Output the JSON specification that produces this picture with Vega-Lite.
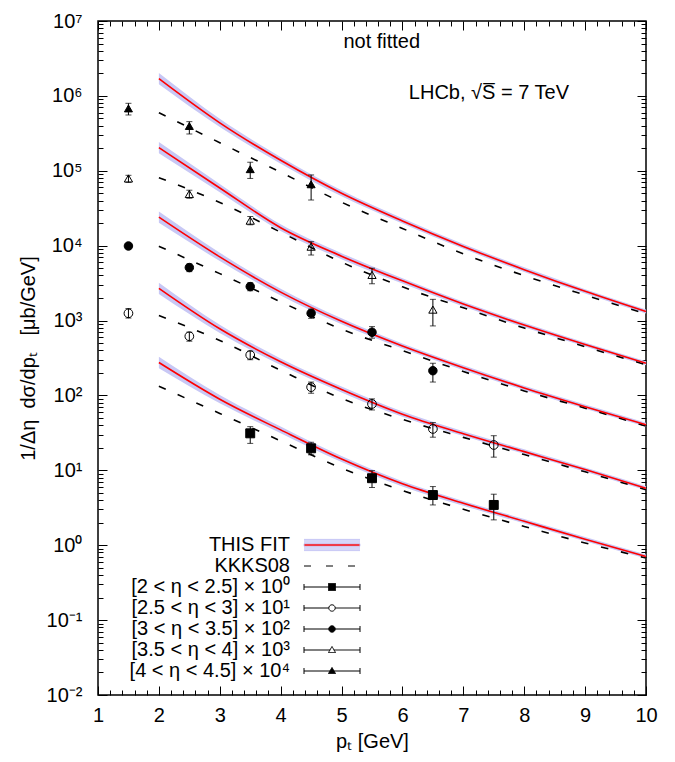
{
  "$schema": "https://vega.github.io/schema/vega-lite/v6.json",
  "autosize": "none",
  "width": 548,
  "height": 674,
  "padding": {"left": 98, "top": 21, "right": 29, "bottom": 67},
  "background": "white",
  "datasets": {
    "curves": [
      {"series": "[4 < η < 4.5] × 10⁴", "x": 2, "fit": 1698000, "lo": 1428000, "hi": 2019000, "kkks": 597000},
      {"series": "[4 < η < 4.5] × 10⁴", "x": 3, "fit": 436500, "lo": 384600, "hi": 495400, "kkks": 237100},
      {"series": "[4 < η < 4.5] × 10⁴", "x": 4, "fit": 138000, "lo": 124500, "hi": 153000, "kkks": 95500},
      {"series": "[4 < η < 4.5] × 10⁴", "x": 5, "fit": 50120, "lo": 45710, "hi": 54960, "kkks": 38020},
      {"series": "[4 < η < 4.5] × 10⁴", "x": 6, "fit": 21380, "lo": 19730, "hi": 23180, "kkks": 16980},
      {"series": "[4 < η < 4.5] × 10⁴", "x": 7, "fit": 9772, "lo": 9078, "hi": 10515, "kkks": 7762},
      {"series": "[4 < η < 4.5] × 10⁴", "x": 8, "fit": 4786, "lo": 4465, "hi": 5131, "kkks": 3981},
      {"series": "[4 < η < 4.5] × 10⁴", "x": 9, "fit": 2455, "lo": 2303, "hi": 2619, "kkks": 2188},
      {"series": "[4 < η < 4.5] × 10⁴", "x": 10, "fit": 1318, "lo": 1239, "hi": 1402, "kkks": 1230},
      {"series": "[3.5 < η < 4] × 10³", "x": 2, "fit": 204200, "lo": 171700, "hi": 242800, "kkks": 80910},
      {"series": "[3.5 < η < 4] × 10³", "x": 3, "fit": 58880, "lo": 51870, "hi": 66830, "kkks": 37760},
      {"series": "[3.5 < η < 4] × 10³", "x": 4, "fit": 17380, "lo": 15680, "hi": 19270, "kkks": 15140},
      {"series": "[3.5 < η < 4] × 10³", "x": 5, "fit": 7244, "lo": 6606, "hi": 7943, "kkks": 6026},
      {"series": "[3.5 < η < 4] × 10³", "x": 6, "fit": 3388, "lo": 3127, "hi": 3673, "kkks": 2818},
      {"series": "[3.5 < η < 4] × 10³", "x": 7, "fit": 1660, "lo": 1542, "hi": 1786, "kkks": 1479},
      {"series": "[3.5 < η < 4] × 10³", "x": 8, "fit": 871, "lo": 813, "hi": 934, "kkks": 794.3},
      {"series": "[3.5 < η < 4] × 10³", "x": 9, "fit": 478.6, "lo": 448.9, "hi": 510.7, "kkks": 446.7},
      {"series": "[3.5 < η < 4] × 10³", "x": 10, "fit": 269.2, "lo": 253.0, "hi": 286.4, "kkks": 257.0},
      {"series": "[3 < η < 3.5] × 10²", "x": 2, "fit": 23990, "lo": 20176, "hi": 28524, "kkks": 9817},
      {"series": "[3 < η < 3.5] × 10²", "x": 3, "fit": 7079, "lo": 6237, "hi": 8035, "kkks": 4236},
      {"series": "[3 < η < 3.5] × 10²", "x": 4, "fit": 2399, "lo": 2164, "hi": 2660, "kkks": 1778},
      {"series": "[3 < η < 3.5] × 10²", "x": 5, "fit": 977.2, "lo": 891.2, "hi": 1071.5, "kkks": 765.6},
      {"series": "[3 < η < 3.5] × 10²", "x": 6, "fit": 457.1, "lo": 421.9, "hi": 495.5, "kkks": 398.1},
      {"series": "[3 < η < 3.5] × 10²", "x": 7, "fit": 234.4, "lo": 217.8, "hi": 252.2, "kkks": 208.9},
      {"series": "[3 < η < 3.5] × 10²", "x": 8, "fit": 125.9, "lo": 117.5, "hi": 135.0, "kkks": 114.8},
      {"series": "[3 < η < 3.5] × 10²", "x": 9, "fit": 70.79, "lo": 66.40, "hi": 75.53, "kkks": 67.61},
      {"series": "[3 < η < 3.5] × 10²", "x": 10, "fit": 40.74, "lo": 38.30, "hi": 43.35, "kkks": 38.90},
      {"series": "[2.5 < η < 3] × 10¹", "x": 2, "fit": 2692, "lo": 2264, "hi": 3201, "kkks": 1164},
      {"series": "[2.5 < η < 3] × 10¹", "x": 3, "fit": 776.2, "lo": 683.8, "hi": 881.0, "kkks": 543.3},
      {"series": "[2.5 < η < 3] × 10¹", "x": 4, "fit": 281.8, "lo": 254.2, "hi": 312.5, "kkks": 216.8},
      {"series": "[2.5 < η < 3] × 10¹", "x": 5, "fit": 120.2, "lo": 109.6, "hi": 131.8, "kkks": 91.20},
      {"series": "[2.5 < η < 3] × 10¹", "x": 6, "fit": 56.23, "lo": 51.90, "hi": 60.95, "kkks": 47.86},
      {"series": "[2.5 < η < 3] × 10¹", "x": 7, "fit": 30.90, "lo": 28.71, "hi": 33.25, "kkks": 27.54},
      {"series": "[2.5 < η < 3] × 10¹", "x": 8, "fit": 17.78, "lo": 16.59, "hi": 19.06, "kkks": 16.22},
      {"series": "[2.5 < η < 3] × 10¹", "x": 9, "fit": 10.23, "lo": 9.60, "hi": 10.92, "kkks": 9.550},
      {"series": "[2.5 < η < 3] × 10¹", "x": 10, "fit": 5.754, "lo": 5.409, "hi": 6.122, "kkks": 5.495},
      {"series": "[2 < η < 2.5] × 10⁰", "x": 2, "fit": 275.4, "lo": 231.6, "hi": 327.5, "kkks": 132.7},
      {"series": "[2 < η < 2.5] × 10⁰", "x": 3, "fit": 89.13, "lo": 78.52, "hi": 101.2, "kkks": 57.54},
      {"series": "[2 < η < 2.5] × 10⁰", "x": 4, "fit": 34.67, "lo": 31.27, "hi": 38.45, "kkks": 24.72},
      {"series": "[2 < η < 2.5] × 10⁰", "x": 5, "fit": 14.13, "lo": 12.89, "hi": 15.49, "kkks": 10.72},
      {"series": "[2 < η < 2.5] × 10⁰", "x": 6, "fit": 6.607, "lo": 6.098, "hi": 7.162, "kkks": 5.370},
      {"series": "[2 < η < 2.5] × 10⁰", "x": 7, "fit": 3.631, "lo": 3.373, "hi": 3.907, "kkks": 3.020},
      {"series": "[2 < η < 2.5] × 10⁰", "x": 8, "fit": 2.089, "lo": 1.949, "hi": 2.239, "kkks": 1.778},
      {"series": "[2 < η < 2.5] × 10⁰", "x": 9, "fit": 1.202, "lo": 1.127, "hi": 1.283, "kkks": 1.072},
      {"series": "[2 < η < 2.5] × 10⁰", "x": 10, "fit": 0.7079, "lo": 0.6654, "hi": 0.7532, "kkks": 0.6761}
    ],
    "points": [
      {"series": "[4 < η < 4.5] × 10⁴", "x": 1.5, "y": 680000, "lo": 556000, "hi": 796000},
      {"series": "[4 < η < 4.5] × 10⁴", "x": 2.5, "y": 396000, "lo": 310000, "hi": 453000},
      {"series": "[4 < η < 4.5] × 10⁴", "x": 3.5, "y": 105000, "lo": 79000, "hi": 130000},
      {"series": "[4 < η < 4.5] × 10⁴", "x": 4.5, "y": 66000, "lo": 40700, "hi": 88000},
      {"series": "[3.5 < η < 4] × 10³", "x": 1.5, "y": 79000, "lo": 70000, "hi": 87000},
      {"series": "[3.5 < η < 4] × 10³", "x": 2.5, "y": 49000, "lo": 43000, "hi": 55000},
      {"series": "[3.5 < η < 4] × 10³", "x": 3.5, "y": 21600, "lo": 19000, "hi": 24500},
      {"series": "[3.5 < η < 4] × 10³", "x": 4.5, "y": 9700, "lo": 7500, "hi": 11300},
      {"series": "[3.5 < η < 4] × 10³", "x": 5.5, "y": 4070, "lo": 3100, "hi": 5000},
      {"series": "[3.5 < η < 4] × 10³", "x": 6.5, "y": 1400, "lo": 848, "hi": 1920},
      {"series": "[3 < η < 3.5] × 10²", "x": 1.5, "y": 9900, "lo": 9000, "hi": 10800},
      {"series": "[3 < η < 3.5] × 10²", "x": 2.5, "y": 5100, "lo": 4500, "hi": 5700},
      {"series": "[3 < η < 3.5] × 10²", "x": 3.5, "y": 2840, "lo": 2500, "hi": 3200},
      {"series": "[3 < η < 3.5] × 10²", "x": 4.5, "y": 1250, "lo": 1070, "hi": 1420},
      {"series": "[3 < η < 3.5] × 10²", "x": 5.5, "y": 698, "lo": 581, "hi": 830},
      {"series": "[3 < η < 3.5] × 10²", "x": 6.5, "y": 214, "lo": 151, "hi": 269},
      {"series": "[2.5 < η < 3] × 10¹", "x": 1.5, "y": 1250, "lo": 1080, "hi": 1450},
      {"series": "[2.5 < η < 3] × 10¹", "x": 2.5, "y": 617, "lo": 530, "hi": 700},
      {"series": "[2.5 < η < 3] × 10¹", "x": 3.5, "y": 347, "lo": 300, "hi": 390},
      {"series": "[2.5 < η < 3] × 10¹", "x": 4.5, "y": 129, "lo": 107, "hi": 151},
      {"series": "[2.5 < η < 3] × 10¹", "x": 5.5, "y": 77, "lo": 64, "hi": 90},
      {"series": "[2.5 < η < 3] × 10¹", "x": 6.5, "y": 35.7, "lo": 27.7, "hi": 43.4},
      {"series": "[2.5 < η < 3] × 10¹", "x": 7.5, "y": 21.8, "lo": 15, "hi": 29},
      {"series": "[2 < η < 2.5] × 10⁰", "x": 3.5, "y": 31.2, "lo": 22.9, "hi": 38.3},
      {"series": "[2 < η < 2.5] × 10⁰", "x": 4.5, "y": 19.7, "lo": 16.1, "hi": 23.7},
      {"series": "[2 < η < 2.5] × 10⁰", "x": 5.5, "y": 7.85, "lo": 5.9, "hi": 9.9},
      {"series": "[2 < η < 2.5] × 10⁰", "x": 6.5, "y": 4.68, "lo": 3.45, "hi": 6.07},
      {"series": "[2 < η < 2.5] × 10⁰", "x": 7.5, "y": 3.45, "lo": 2.18, "hi": 4.8}
    ]
  },
  "resolve": {
    "axis": {"x": "independent", "y": "independent"},
    "scale": {"shape": "independent", "fill": "independent", "size": "independent", "stroke": "independent", "strokeDash": "independent"}
  },
  "layer": [
    {
      "data": {"name": "curves"},
      "mark": {"type": "area", "color": "#c8c8f5", "opacity": 1, "interpolate": "monotone"},
      "encoding": {
        "x": {"field": "x", "type": "quantitative", "scale": {"domain": [1, 10], "nice": false, "zero": false},
          "axis": {"orient": "bottom", "values": [1, 2, 3, 4, 5, 6, 7, 8, 9, 10], "ticks": false, "domain": false, "grid": false,
            "labelPadding": 10, "labelFlush": false, "labelOverlap": false, "format": "d",
            "title": "pₜ [GeV]", "titlePadding": 6}},
        "y": {"field": "lo", "type": "quantitative", "scale": {"type": "log", "domain": [0.01, 10000000], "nice": false},
          "axis": {"orient": "left", "values": [0.01, 0.1, 1, 10, 100, 1000, 10000, 100000, 1000000, 10000000], "ticks": false, "domain": false, "grid": false,
            "labelPadding": 16, "labelOverlap": false,
            "labelExpr": "'10' + ['⁻²','⁻¹','⁰','¹','²','³','⁴','⁵','⁶','⁷'][round(log(datum.value)/LN10) + 2]",
            "title": "1/Δη\u00a0\u00a0dσ/dpₜ\u00a0\u00a0\u00a0[μb/GeV]", "titlePadding": 8}},
        "y2": {"field": "hi"},
        "detail": {"field": "series"}
      }
    },
    {
      "data": {"name": "curves"},
      "mark": {"type": "line", "color": "black", "strokeWidth": 1.6, "strokeDash": [7.5, 13], "interpolate": "monotone"},
      "encoding": {
        "x": {"field": "x", "type": "quantitative", "scale": {"domain": [1, 10], "nice": false, "zero": false},
          "axis": {"orient": "bottom", "values": [1.2, 1.4, 1.6, 1.8, 2.2, 2.4, 2.6, 2.8, 3.2, 3.4, 3.6, 3.8, 4.2, 4.4, 4.6, 4.8, 5.2, 5.4, 5.6, 5.8, 6.2, 6.4, 6.6, 6.8, 7.2, 7.4, 7.6, 7.8, 8.2, 8.4, 8.6, 8.8, 9.2, 9.4, 9.6, 9.8],
            "labels": false, "tickSize": -5, "domain": false, "grid": false, "title": null}},
        "y": {"field": "kkks", "type": "quantitative", "scale": {"type": "log", "domain": [0.01, 10000000], "nice": false},
          "axis": {"orient": "left", "values": [0.02, 0.03, 0.04, 0.05, 0.06, 0.07, 0.08, 0.09, 0.2, 0.3, 0.4, 0.5, 0.6, 0.7, 0.8, 0.9, 2, 3, 4, 5, 6, 7, 8, 9, 20, 30, 40, 50, 60, 70, 80, 90, 200, 300, 400, 500, 600, 700, 800, 900, 2000, 3000, 4000, 5000, 6000, 7000, 8000, 9000, 20000, 30000, 40000, 50000, 60000, 70000, 80000, 90000, 200000, 300000, 400000, 500000, 600000, 700000, 800000, 900000, 2000000, 3000000, 4000000, 5000000, 6000000, 7000000, 8000000, 9000000],
            "labels": false, "tickSize": -5, "domain": false, "grid": false, "title": null}},
        "detail": {"field": "series"}
      }
    },
    {
      "data": {"name": "curves"},
      "mark": {"type": "line", "color": "#ff0000", "strokeWidth": 1.6, "interpolate": "monotone"},
      "encoding": {
        "x": {"field": "x", "type": "quantitative", "scale": {"domain": [1, 10], "nice": false, "zero": false},
          "axis": {"orient": "top", "values": [1, 2, 3, 4, 5, 6, 7, 8, 9, 10], "labels": false, "tickSize": -9, "domain": false, "grid": false, "title": null}},
        "y": {"field": "fit", "type": "quantitative", "scale": {"type": "log", "domain": [0.01, 10000000], "nice": false},
          "axis": {"orient": "right", "values": [0.01, 0.1, 1, 10, 100, 1000, 10000, 100000, 1000000, 10000000], "labels": false, "tickSize": -9, "domain": false, "grid": false, "title": null}},
        "detail": {"field": "series"}
      }
    },
    {
      "data": {"name": "points"},
      "mark": {"type": "errorbar", "ticks": {"size": 6, "color": "black"}, "rule": {"color": "black", "strokeWidth": 1}, "thickness": 1},
      "encoding": {
        "x": {"field": "x", "type": "quantitative", "scale": {"domain": [1, 10], "nice": false, "zero": false},
          "axis": {"orient": "top", "values": [1.2, 1.4, 1.6, 1.8, 2.2, 2.4, 2.6, 2.8, 3.2, 3.4, 3.6, 3.8, 4.2, 4.4, 4.6, 4.8, 5.2, 5.4, 5.6, 5.8, 6.2, 6.4, 6.6, 6.8, 7.2, 7.4, 7.6, 7.8, 8.2, 8.4, 8.6, 8.8, 9.2, 9.4, 9.6, 9.8],
            "labels": false, "tickSize": -5, "domain": false, "grid": false, "title": null}},
        "y": {"field": "lo", "type": "quantitative", "scale": {"type": "log", "domain": [0.01, 10000000], "nice": false},
          "axis": {"orient": "right", "values": [0.02, 0.03, 0.04, 0.05, 0.06, 0.07, 0.08, 0.09, 0.2, 0.3, 0.4, 0.5, 0.6, 0.7, 0.8, 0.9, 2, 3, 4, 5, 6, 7, 8, 9, 20, 30, 40, 50, 60, 70, 80, 90, 200, 300, 400, 500, 600, 700, 800, 900, 2000, 3000, 4000, 5000, 6000, 7000, 8000, 9000, 20000, 30000, 40000, 50000, 60000, 70000, 80000, 90000, 200000, 300000, 400000, 500000, 600000, 700000, 800000, 900000, 2000000, 3000000, 4000000, 5000000, 6000000, 7000000, 8000000, 9000000],
            "labels": false, "tickSize": -5, "domain": false, "grid": false, "title": null}},
        "y2": {"field": "hi"}
      }
    },
    {
      "data": {"name": "points"},
      "mark": {"type": "point", "stroke": "black", "strokeWidth": 1, "opacity": 1},
      "encoding": {
        "x": {"field": "x", "type": "quantitative", "scale": {"domain": [1, 10], "nice": false, "zero": false},
          "axis": {"orient": "bottom", "values": [1, 2, 3, 4, 5, 6, 7, 8, 9, 10], "labels": false, "tickSize": -9, "domain": false, "grid": false, "title": null}},
        "y": {"field": "y", "type": "quantitative", "scale": {"type": "log", "domain": [0.01, 10000000], "nice": false},
          "axis": {"orient": "left", "values": [0.01, 0.1, 1, 10, 100, 1000, 10000, 100000, 1000000, 10000000], "labels": false, "tickSize": -9, "domain": false, "grid": false, "title": null}},
        "shape": {"field": "series", "type": "nominal", "legend": null,
          "scale": {"domain": ["[2 < η < 2.5] × 10⁰", "[2.5 < η < 3] × 10¹", "[3 < η < 3.5] × 10²", "[3.5 < η < 4] × 10³", "[4 < η < 4.5] × 10⁴"],
            "range": ["square", "circle", "circle", "triangle-up", "triangle-up"]}},
        "fill": {"field": "series", "type": "nominal", "legend": null,
          "scale": {"domain": ["[2 < η < 2.5] × 10⁰", "[2.5 < η < 3] × 10¹", "[3 < η < 3.5] × 10²", "[3.5 < η < 4] × 10³", "[4 < η < 4.5] × 10⁴"],
            "range": ["black", "transparent", "black", "transparent", "black"]}},
        "size": {"field": "series", "type": "nominal", "legend": null,
          "scale": {"domain": ["[2 < η < 2.5] × 10⁰", "[2.5 < η < 3] × 10¹", "[3 < η < 3.5] × 10²", "[3.5 < η < 4] × 10³", "[4 < η < 4.5] × 10⁴"],
            "range": [80, 64, 64, 50, 50]}}
      }
    },
    {
      "data": {"name": "points"},
      "mark": {"type": "point", "opacity": 0},
      "encoding": {
        "x": {"field": "x", "type": "quantitative", "axis": null},
        "y": {"field": "y", "type": "quantitative", "axis": null},
        "shape": {"field": "series", "type": "nominal",
          "scale": {"domain": ["THIS FIT", "KKKS08", "[2 < η < 2.5] × 10⁰", "[2.5 < η < 3] × 10¹", "[3 < η < 3.5] × 10²", "[3.5 < η < 4] × 10³", "[4 < η < 4.5] × 10⁴"],
            "range": ["M-28,-1.2H28V1.2H-28ZM-28,-2H28M-28,-3H28M-28,-4H28M-28,-5H28M-28,-5.6H28M-28,2H28M-28,3H28M-28,4H28M-28,5H28M-28,5.6H28", "M-28,0H28", "M-28,0H28M-28,-3V3M28,-3V3M-3.5,-3.5H3.5V3.5H-3.5Z", "M-28,0H-3.2M3.2,0H28M-28,-3V3M28,-3V3M-3.2,0A3.2,3.2,0,1,1,3.2,0A3.2,3.2,0,1,1,-3.2,0Z", "M-28,0H28M-28,-3V3M28,-3V3M-3.2,0A3.2,3.2,0,1,1,3.2,0A3.2,3.2,0,1,1,-3.2,0Z", "M-28,0H-1.8M1.8,0H28M-28,-3V3M28,-3V3M0,-3.5L3.5,2.5H-3.5Z", "M-28,0H28M-28,-3V3M28,-3V3M0,-3.5L3.5,2.5H-3.5Z"]},
          "legend": {"orient": "none", "legendX": 224, "legendY": 514, "title": null, "padding": 0, "direction": "vertical", "columns": 1, "labelAlign": "right", "labelBaseline": "middle", "labelOffset": -52, "labelFontSize": 20, "labelColor": "black", "labelLimit": 400, "rowPadding": 1, "symbolSize": 4, "symbolStrokeWidth": 1, "symbolOpacity": 1, "symbolFillColor": "black", "symbolStrokeColor": "black"}},
        "fill": {"field": "series", "type": "nominal",
          "scale": {"domain": ["THIS FIT", "KKKS08", "[2 < η < 2.5] × 10⁰", "[2.5 < η < 3] × 10¹", "[3 < η < 3.5] × 10²", "[3.5 < η < 4] × 10³", "[4 < η < 4.5] × 10⁴"],
            "range": ["#ff0000", "transparent", "black", "transparent", "black", "transparent", "black"]},
          "legend": {"orient": "none", "legendX": 224, "legendY": 514, "title": null, "padding": 0, "direction": "vertical", "columns": 1, "labelAlign": "right", "labelBaseline": "middle", "labelOffset": -52, "labelFontSize": 20, "labelColor": "black", "labelLimit": 400, "rowPadding": 1, "symbolSize": 4, "symbolStrokeWidth": 1, "symbolOpacity": 1, "symbolFillColor": "black", "symbolStrokeColor": "black"}},
        "stroke": {"field": "series", "type": "nominal",
          "scale": {"domain": ["THIS FIT", "KKKS08", "[2 < η < 2.5] × 10⁰", "[2.5 < η < 3] × 10¹", "[3 < η < 3.5] × 10²", "[3.5 < η < 4] × 10³", "[4 < η < 4.5] × 10⁴"],
            "range": ["#c8c8f5", "black", "black", "black", "black", "black", "black"]},
          "legend": {"orient": "none", "legendX": 224, "legendY": 514, "title": null, "padding": 0, "direction": "vertical", "columns": 1, "labelAlign": "right", "labelBaseline": "middle", "labelOffset": -52, "labelFontSize": 20, "labelColor": "black", "labelLimit": 400, "rowPadding": 1, "symbolSize": 4, "symbolStrokeWidth": 1, "symbolOpacity": 1, "symbolFillColor": "black", "symbolStrokeColor": "black"}},
        "strokeDash": {"field": "series", "type": "nominal",
          "scale": {"domain": ["THIS FIT", "KKKS08", "[2 < η < 2.5] × 10⁰", "[2.5 < η < 3] × 10¹", "[3 < η < 3.5] × 10²", "[3.5 < η < 4] × 10³", "[4 < η < 4.5] × 10⁴"],
            "range": [[1, 0], [7, 15], [1, 0], [1, 0], [1, 0], [1, 0], [1, 0]]},
          "legend": {"orient": "none", "legendX": 224, "legendY": 514, "title": null, "padding": 0, "direction": "vertical", "columns": 1, "labelAlign": "right", "labelBaseline": "middle", "labelOffset": -52, "labelFontSize": 20, "labelColor": "black", "labelLimit": 400, "rowPadding": 1, "symbolSize": 4, "symbolStrokeWidth": 1, "symbolOpacity": 1, "symbolFillColor": "black", "symbolStrokeColor": "black"}}
      }
    },
    {
      "data": {"values": [{"t": "not fitted"}]},
      "mark": {"type": "text", "fontSize": 20, "align": "center", "baseline": "middle", "color": "black"},
      "encoding": {
        "x": {"datum": 5.66, "type": "quantitative", "axis": null},
        "y": {"datum": 5200000, "type": "quantitative", "axis": null},
        "text": {"field": "t"}
      }
    },
    {
      "data": {"values": [{"t": "LHCb, √S̅ = 7 TeV"}]},
      "mark": {"type": "text", "fontSize": 20, "align": "center", "baseline": "middle", "color": "black"},
      "encoding": {
        "x": {"datum": 7.42, "type": "quantitative", "axis": null},
        "y": {"datum": 1080000, "type": "quantitative", "axis": null},
        "text": {"field": "t"}
      }
    }
  ],
  "config": {
    "font": "Liberation Sans",
    "view": {"stroke": "black", "strokeWidth": 1.5},
    "axis": {"labelColor": "black", "titleColor": "black", "tickColor": "black", "tickWidth": 1, "labelFontSize": 20, "titleFontSize": 20, "titleFontWeight": "normal", "labelFont": "Liberation Sans", "titleFont": "Liberation Sans"},
    "legend": {"labelFont": "Liberation Sans"}
  }
}
